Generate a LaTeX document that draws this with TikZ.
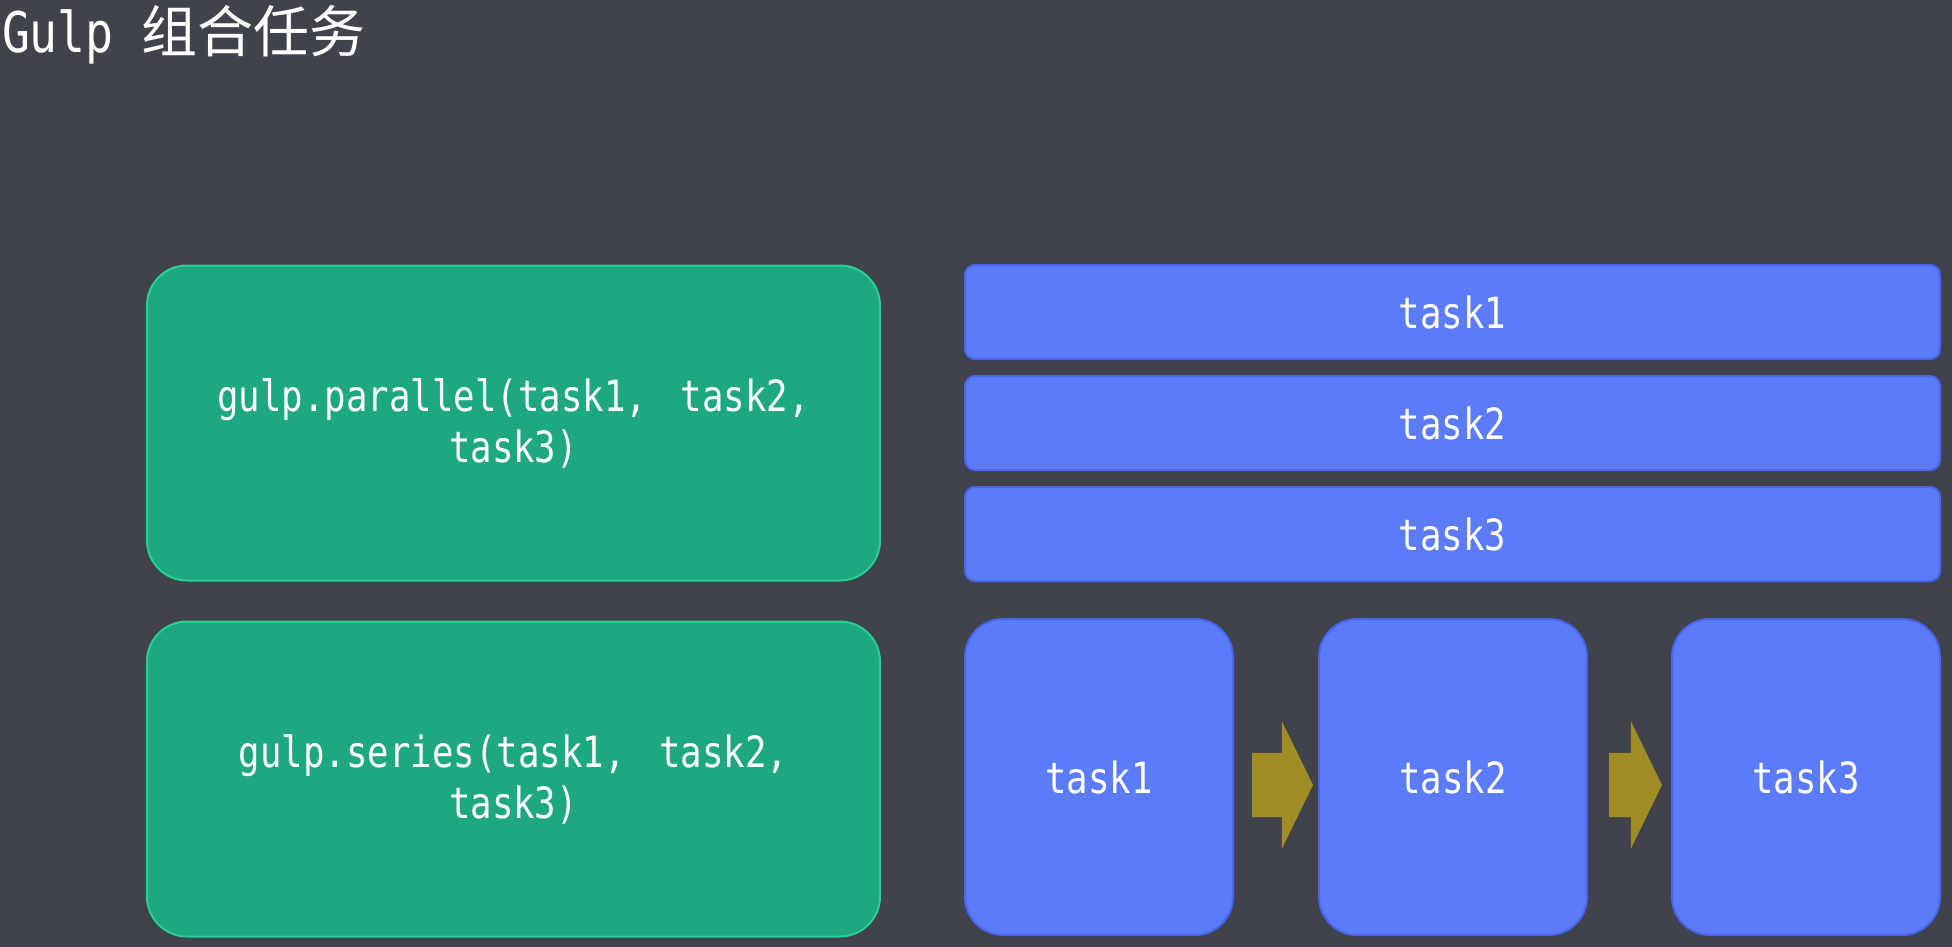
\documentclass[tikz,border=0pt]{standalone}
\usepackage{fontspec}
\setmainfont{DejaVu Sans Mono}[FakeStretch=0.83]
\newfontfamily\cjkfont{Noto Sans CJK SC}
\usetikzlibrary{positioning,shapes.arrows}
\definecolor{slide bg}{RGB}{64,67,76}
\definecolor{call fill}{RGB}{29,168,130}
\definecolor{call line}{RGB}{39,207,149}
\definecolor{task fill}{RGB}{91,123,249}
\definecolor{task line}{RGB}{71,102,240}
\definecolor{flow fill}{RGB}{160,140,37}
\tikzset{
	slide/.style={x=1pt,y=-1pt,node distance=17pt and 86pt,
		every node/.style={inner sep=0pt,outer sep=0pt,text=white,
			font=\fontsize{43}{51}\selectfont}},
	call box/.style={draw=call line,fill=call fill,line width=2pt,
		rounded corners=40pt,minimum width=733pt,minimum height=315pt,align=center},
	task bar/.style={draw=task line,fill=task fill,line width=2pt,
		rounded corners=10pt,minimum width=975pt,minimum height=94pt},
	task box/.style={draw=task line,fill=task fill,line width=2pt,
		rounded corners=38pt,minimum width=268pt,minimum height=316pt},
	flow/.style={single arrow,fill=flow fill,shape border rotate=0,
		inner ysep=32pt,minimum width=127pt,single arrow head extend=31.5pt,
		single arrow tip angle=128,minimum height=#1},
	flow/.default=61pt
}
\newcommand{\sep}{,\kern12pt\ }

\begin{document}
\begin{tikzpicture}[slide]
	\fill[slide bg] (0,0) rectangle (1952,947);
	\useasboundingbox (0,0) rectangle (1952,947);
	\node[anchor=base west,font=\fontsize{56}{60}\selectfont] (title) at (2,53)
		{Gulp {\cjkfont 组合任务}};
	% left column
	\node[call box] (par) at (513.5,423) {gulp.parallel(task1\sep task2,\\task3)};
	\node[call box, below=41pt of par] (ser) {gulp.series(task1\sep task2,\\task3)};
	% parallel tasks
	\node[task bar, anchor=north west] (p1) at (965,265) {task1};
	\node[task bar, below=of p1] (p2) {task2};
	\node[task bar, below=of p2] (p3) {task3};
	% series tasks
	\node[task box, anchor=north west] (s1) at (965,619) {task1};
	\node[task box, right=of s1] (s2) {task2};
	\node[task box, right=85pt of s2] (s3) {task3};
	\node[flow, anchor=tip] (f1) at ([xshift=-6pt,yshift=-8pt]s2.west) {};
	\node[flow=53pt, anchor=tip] (f2) at ([xshift=-10pt,yshift=-8pt]s3.west) {};
\end{tikzpicture}
\end{document}
